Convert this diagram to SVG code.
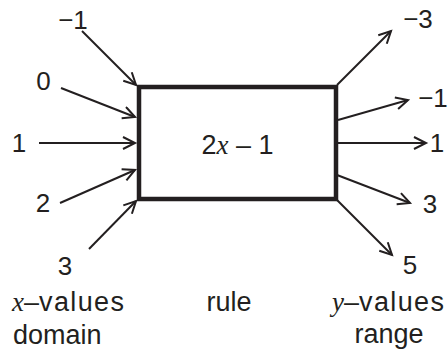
<svg xmlns="http://www.w3.org/2000/svg" width="448" height="353" viewBox="0 0 448 353">
<style>
text{font-family:"Liberation Sans",Arial,sans-serif;font-size:26px;fill:#231f20}
.w{font-size:27px}
.it{font-family:"Liberation Serif","Times New Roman",serif;font-style:italic}
.c{stroke:#231f20;stroke-width:2;fill:none;marker-end:url(#ah)}
</style>
<defs>
<marker id="ah" markerUnits="userSpaceOnUse" markerWidth="16" markerHeight="16" viewBox="-1 -1 16 16" refX="12" refY="6" orient="auto">
<path d="M0,0 L12,6 L0,12" fill="none" stroke="#231f20" stroke-width="2"/>
</marker>
</defs>
<rect width="448" height="353" fill="#fff"/>
<g id="rule">
<rect x="139" y="87" width="197" height="112" fill="none" stroke="#231f20" stroke-width="4.5"/>
<text x="237.5" y="154" text-anchor="middle" class="w">2<tspan class="it">x</tspan> – 1</text>
</g>
<g id="connectors">
<line class="c" x1="82" y1="31" x2="136" y2="85"/>
<line class="c" x1="61" y1="88" x2="135" y2="117"/>
<line class="c" x1="39" y1="143" x2="135" y2="143"/>
<line class="c" x1="60" y1="203" x2="135" y2="170"/>
<line class="c" x1="89" y1="249" x2="136" y2="201"/>
<line class="c" x1="337" y1="85" x2="391" y2="31"/>
<line class="c" x1="338" y1="120" x2="408" y2="100"/>
<line class="c" x1="338" y1="143" x2="426" y2="143"/>
<line class="c" x1="337" y1="175" x2="410" y2="203"/>
<line class="c" x1="337" y1="200" x2="392" y2="255"/>
</g>
<g id="inputs">
<text x="73" y="29" text-anchor="middle">−1</text>
<text x="43.5" y="90" text-anchor="middle">0</text>
<text x="19" y="152" text-anchor="middle">1</text>
<text x="43" y="212" text-anchor="middle">2</text>
<text x="65" y="275" text-anchor="middle">3</text>
</g>
<g id="outputs">
<text x="418" y="28" text-anchor="middle">−3</text>
<text x="433" y="107" text-anchor="middle">−1</text>
<text x="437" y="152" text-anchor="middle">1</text>
<text x="430" y="213" text-anchor="middle">3</text>
<text x="410" y="274" text-anchor="middle">5</text>
</g>
<g id="labels">
<text x="12" y="311" class="w"><tspan class="it">x</tspan>–<tspan textLength="85">values</tspan></text>
<text x="13" y="344" class="w">domain</text>
<text x="229" y="311" text-anchor="middle" class="w">rule</text>
<text x="332" y="311" class="w"><tspan class="it">y</tspan>–<tspan textLength="85">values</tspan></text>
<text x="389" y="343" text-anchor="middle" class="w">range</text>
</g>
</svg>
